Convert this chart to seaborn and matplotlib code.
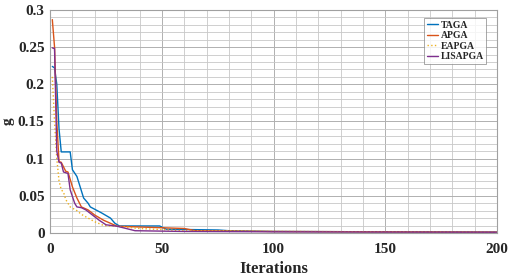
import numpy as np
import pandas as pd
import matplotlib
matplotlib.use("Agg")
import matplotlib.pyplot as plt
import seaborn as sns
from matplotlib.ticker import MultipleLocator

# ---- data ----
taga_it = [1, 2, 3, 4, 5, 9, 10, 12, 15, 17, 18, 23, 27, 29, 31, 49, 52, 75, 80, 100, 150, 200]
taga_g = [0.224, 0.222, 0.2, 0.14, 0.109, 0.109, 0.085, 0.076, 0.047, 0.040, 0.035, 0.027, 0.020, 0.013, 0.0094, 0.0094, 0.005, 0.004, 0.003, 0.002, 0.0015, 0.001]

apga_it = [1, 2, 3, 4, 5, 7, 8, 10, 12, 14, 17, 20, 24, 27, 30, 60, 65, 100, 150, 200]
apga_g = [0.287, 0.25, 0.15, 0.096, 0.095, 0.083, 0.082, 0.062, 0.047, 0.035, 0.031, 0.024, 0.017, 0.013, 0.009, 0.006, 0.003, 0.002, 0.0015, 0.001]

eapga_it = [1, 2, 3, 4, 5, 6, 7, 9, 12, 14, 17, 20, 24, 30, 40, 60, 100, 150, 200]
eapga_g = [0.21, 0.15, 0.1, 0.07, 0.058, 0.055, 0.045, 0.035, 0.030, 0.025, 0.020, 0.015, 0.010, 0.009, 0.006, 0.003, 0.002, 0.0015, 0.001]

lisapga_it = [1, 2, 3, 4, 5, 6, 8, 9, 11, 12, 14, 16, 19, 22, 25, 30, 38, 60, 100, 150, 200]
lisapga_g = [0.249, 0.248, 0.11, 0.095, 0.094, 0.082, 0.080, 0.058, 0.040, 0.035, 0.034, 0.031, 0.024, 0.017, 0.011, 0.009, 0.003, 0.002, 0.0015, 0.0012, 0.001]

series_names = ["TAGA", "APGA", "EAPGA", "LISAPGA"]
x_ticks = [0, 50, 100, 150, 200]
y_ticks = [0, 0.05, 0.1, 0.15, 0.2, 0.25, 0.3]
y_tick_labels = ["0", "0.05", "0.1", "0.15", "0.2", "0.25", "0.3"]

colors = {"TAGA": "#0072BD", "APGA": "#D95319", "EAPGA": "#EDB120", "LISAPGA": "#7E2F8E"}
styles = {"TAGA": "-", "APGA": "-", "EAPGA": ":", "LISAPGA": "-"}

frames = []
for name, its, gs in zip(series_names,
                         [taga_it, apga_it, eapga_it, lisapga_it],
                         [taga_g, apga_g, eapga_g, lisapga_g]):
    frames.append(pd.DataFrame({"Iterations": its, "g": gs, "alg": name}))
df = pd.concat(frames, ignore_index=True)

sns.set_style("white")
plt.rcParams["font.family"] = ["Liberation Serif", "DejaVu Serif"]
plt.rcParams["font.weight"] = "bold"

fig = plt.figure(figsize=(5.11, 2.76), dpi=100)
ax = fig.add_axes([0.098, 0.156, 0.875, 0.808])

for name in series_names:
    sub = df[df["alg"] == name]
    sns.lineplot(data=sub, x="Iterations", y="g", ax=ax, color=colors[name],
                 linestyle=styles[name], linewidth=1.0, label=name, sort=False,
                 estimator=None)

ax.set_xlim(0, 200)
ax.set_ylim(0, 0.3)
ax.set_xticks(x_ticks)
ax.set_xticklabels([str(t) for t in x_ticks])
ax.set_yticks(y_ticks)
ax.set_yticklabels(y_tick_labels)
ax.xaxis.set_minor_locator(MultipleLocator(10))
ax.yaxis.set_minor_locator(MultipleLocator(0.01))
ax.grid(True, which="major", color="#b0b0b0", linewidth=0.7)
ax.grid(True, which="minor", color="#c8c8c8", linewidth=0.6)
ax.tick_params(which="both", length=0, labelsize=11, pad=4)
ax.tick_params(axis="x", pad=7)
for lab in ax.get_xticklabels() + ax.get_yticklabels():
    lab.set_fontweight("bold")
for sp in ax.spines.values():
    sp.set_color("#a0a0a0")
    sp.set_linewidth(0.8)

ax.set_xlabel("Iterations", fontsize=12, fontweight="bold", labelpad=4)
ax.set_ylabel("g", fontsize=11, fontweight="bold", labelpad=2)

leg = ax.legend(loc="upper right", bbox_to_anchor=(0.976, 0.965), fontsize=7,
                frameon=True, fancybox=False, handlelength=1.2, handletextpad=0.2,
                borderpad=0.3, labelspacing=0.15, borderaxespad=0)
leg.get_frame().set_edgecolor("#808080")
leg.get_frame().set_linewidth(0.6)
for t in leg.get_texts():
    t.set_fontweight("bold")

fig.savefig("out.png", dpi=100)
